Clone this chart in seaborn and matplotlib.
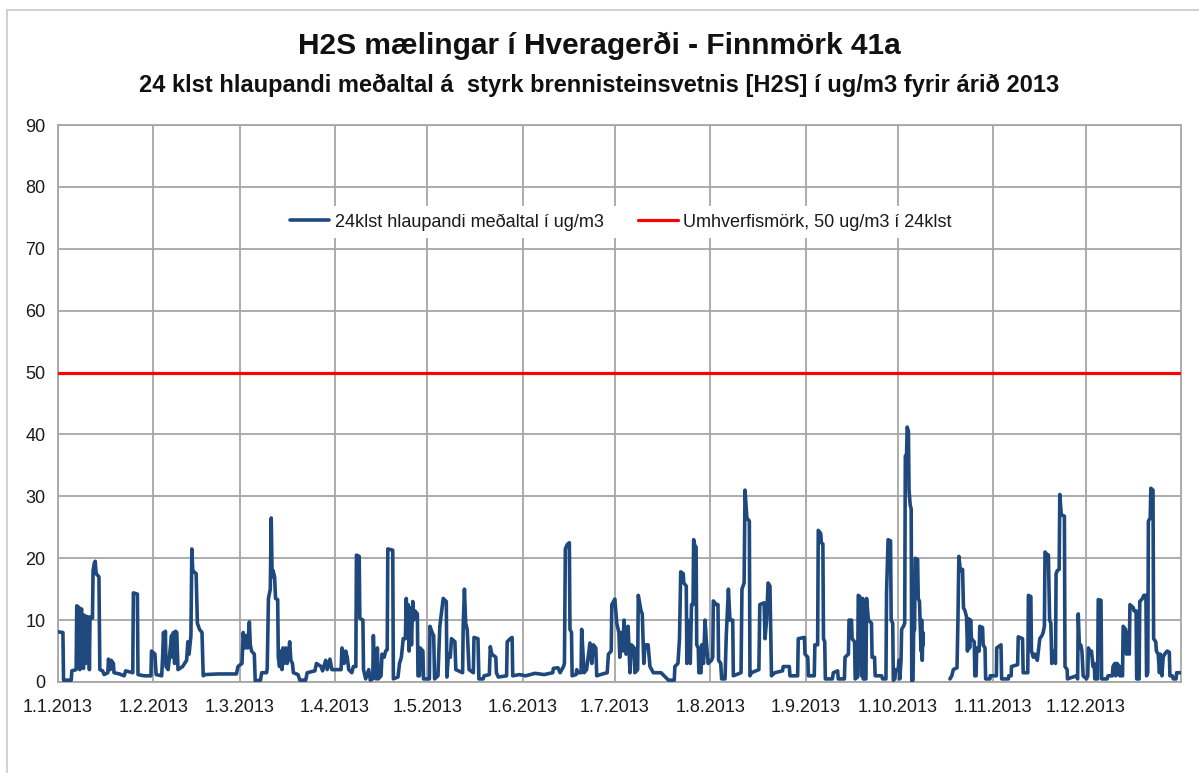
import matplotlib
matplotlib.use("Agg")
import matplotlib.pyplot as plt
from matplotlib.lines import Line2D
import seaborn as sns
import pandas as pd
import numpy as np

nan = np.nan

# ---- data: 24h running mean of H2S (ug/m3), breakpoints ----
# day = days since 1.1.2013 00:00
jan_day = [0.0, 1.6, 1.8, 4.3, 4.5, 5.9, 6.1, 6.9, 7.1, 7.4, 7.7, 7.8, 8.3, 8.5, 9.0, 9.3, 10.0, 10.2, 10.4, 11.2, 11.4, 11.8, 12.1, 12.4, 13.3, 13.6, 14.5, 15.0, 16.2, 16.4, 17.0, 17.3, 18.0, 18.2, 20.0, 21.5, 22.0, 24.3, 24.5, 25.8, 26.0, 28.0, 30.2, 30.4]
jan_h2s = [8.1, 8.0, 0.3, 0.3, 1.8, 2.0, 12.3, 12.0, 2.0, 11.5, 11.8, 2.5, 2.2, 10.8, 3.0, 10.6, 10.4, 2.0, 10.5, 10.3, 18.0, 19.2, 19.5, 17.5, 17.0, 2.0, 1.8, 1.2, 1.5, 3.7, 2.0, 3.5, 3.0, 1.5, 1.3, 1.0, 1.8, 1.5, 14.4, 14.2, 1.2, 1.0, 1.0, 5.0]

feb_day = [31.5, 31.9, 33.7, 34.0, 34.3, 34.6, 34.9, 35.1, 35.8, 36.9, 37.2, 37.5, 37.9, 38.2, 38.6, 39.0, 40.5, 41.8, 42.2, 42.6, 43.2, 43.5, 43.8, 44.9, 45.3, 46.0, 46.8, 47.2, 47.8, 52.0, 58.0, 58.5]
feb_h2s = [4.5, 1.2, 1.0, 4.0, 8.0, 3.5, 8.2, 2.5, 2.0, 7.5, 4.0, 8.0, 3.0, 8.2, 8.0, 2.0, 2.5, 3.5, 6.5, 4.5, 7.5, 21.5, 18.0, 17.5, 9.5, 8.5, 8.0, 1.0, 1.2, 1.3, 1.3, 2.5]

mar_day = [59.8, 60.2, 60.7, 61.1, 61.6, 62.2, 62.5, 62.9, 63.8, 64.1, 65.8, 66.2, 67.8, 68.0, 68.4, 69.0, 69.3, 69.6, 69.9, 70.4, 70.7, 71.4, 71.6, 72.0, 72.4, 72.8, 73.1, 73.5, 74.0, 74.5, 75.0, 75.3, 75.7, 76.2, 76.5, 78.0, 78.6, 80.5, 81.0, 83.5, 84.0, 85.5, 86.0, 87.0, 87.5, 88.4, 89.0]
mar_h2s = [3.0, 8.0, 5.5, 7.5, 5.5, 9.7, 6.0, 5.0, 4.5, 0.2, 0.3, 1.5, 1.5, 2.2, 13.5, 15.0, 26.5, 17.0, 18.0, 17.0, 13.5, 13.3, 4.0, 2.5, 5.0, 2.0, 5.5, 3.0, 5.5, 3.0, 5.0, 6.5, 3.5, 3.0, 1.5, 1.2, 0.3, 0.3, 1.5, 1.8, 3.0, 2.5, 1.8, 3.5, 2.0, 3.7, 2.0]

apr_day = [92.0, 92.3, 93.0, 93.5, 94.0, 94.5, 95.5, 96.0, 96.8, 97.0, 97.9, 98.1, 99.1, 99.3, 100.0, 101.0, 101.5, 102.3, 102.5, 102.8, 103.4, 103.8, 104.1, 105.0, 105.3, 106.0, 106.5, 107.0, 107.2, 108.8, 109.0, 110.5, 111.0, 111.6, 112.2, 112.9, 113.2, 113.5, 113.8, 114.1, 114.5, 114.9, 115.3, 115.6, 116.0, 116.8, 117.0, 117.5, 117.7, 118.6, 118.8]
apr_h2s = [2.0, 5.5, 3.0, 5.0, 4.0, 2.0, 1.5, 2.5, 2.5, 20.5, 20.3, 10.3, 10.0, 2.0, 0.5, 2.0, 0.3, 0.5, 7.5, 3.0, 0.5, 5.5, 0.5, 1.0, 4.5, 4.0, 5.0, 5.2, 21.5, 21.3, 0.5, 0.8, 3.0, 4.0, 7.0, 7.0, 13.5, 8.0, 12.5, 5.0, 12.0, 6.0, 13.0, 10.0, 11.5, 11.0, 1.0, 1.0, 5.5, 5.0, 0.5]

may_day = [120.7, 120.9, 121.6, 122.1, 122.4, 123.5, 124.1, 124.6, 125.2, 126.2, 126.4, 126.9, 127.5, 127.9, 129.0, 129.3, 131.5, 131.7, 132.1, 132.5, 133.0, 133.6, 135.0, 135.2, 136.5, 136.8, 138.2, 138.5, 140.2, 140.5, 141.0, 141.5, 142.3, 142.5, 143.1, 145.8, 146.0, 147.0, 147.6, 147.8, 150.0]
may_h2s = [0.5, 9.0, 8.0, 7.5, 0.5, 1.0, 9.0, 11.0, 13.5, 13.0, 0.8, 4.5, 4.0, 7.0, 6.5, 2.0, 1.5, 9.0, 15.0, 9.5, 8.5, 2.0, 1.5, 7.2, 7.0, 0.5, 0.5, 1.0, 1.2, 5.7, 4.5, 4.3, 4.0, 1.5, 0.8, 1.0, 6.5, 7.0, 7.2, 1.0, 1.2]

jun_day = [152.0, 155.0, 158.0, 160.8, 161.0, 162.5, 163.2, 164.3, 164.6, 164.9, 165.5, 166.2, 166.4, 166.9, 167.1, 168.4, 168.6, 169.0, 170.0, 170.2, 170.6, 171.0, 171.8, 172.9, 173.5, 174.0, 174.8, 175.1, 177.0, 178.5, 178.9, 179.8]
jun_h2s = [1.0, 1.4, 1.2, 1.5, 2.2, 2.3, 1.5, 2.5, 3.0, 21.5, 22.2, 22.5, 8.5, 8.0, 1.0, 1.2, 2.0, 1.5, 1.5, 8.5, 5.0, 1.5, 2.0, 6.3, 3.0, 6.0, 5.5, 1.0, 1.3, 1.5, 4.5, 5.0]

jul_day = [180.0, 181.0, 181.6, 182.3, 182.6, 183.0, 183.5, 184.0, 184.6, 185.3, 185.9, 186.4, 187.3, 187.5, 188.4, 188.6, 189.5, 189.9, 190.4, 190.8, 191.8, 192.4, 193.5, 196.0, 198.4, 200.3, 200.5, 201.5, 202.0, 202.4, 203.2, 203.4, 204.2, 204.4, 204.7, 205.2, 205.5, 205.9, 206.4, 206.6, 207.0, 207.4, 207.6, 208.1, 208.3, 209.0, 209.2, 209.8, 210.3, 210.8, 211.3]
jul_h2s = [12.5, 13.4, 9.5, 8.0, 4.0, 8.0, 5.0, 10.0, 4.5, 9.0, 1.5, 6.0, 5.5, 1.5, 2.0, 14.0, 11.5, 11.0, 3.0, 6.0, 6.0, 2.5, 1.5, 1.5, 0.3, 0.3, 2.5, 3.0, 7.0, 17.8, 17.5, 16.0, 15.5, 3.0, 10.0, 9.5, 3.0, 12.5, 12.5, 23.0, 22.0, 21.8, 6.0, 5.5, 1.5, 1.5, 6.0, 3.0, 10.0, 6.0, 3.0]

aug_day = [212.4, 212.8, 213.0, 214.0, 214.5, 214.7, 215.4, 215.7, 216.8, 217.2, 217.9, 218.4, 219.3, 219.5, 222.0, 222.3, 223.0, 223.3, 223.9, 224.7, 224.9, 225.4, 227.8, 228.1, 229.5, 229.8, 230.3, 230.8, 231.4, 231.9, 233.0, 235.5, 235.7, 237.7, 237.9, 240.4, 240.6, 242.6, 242.8]
aug_h2s = [3.5, 4.0, 13.1, 12.5, 12.5, 3.5, 3.0, 0.5, 0.5, 7.5, 15.0, 10.0, 10.0, 1.0, 1.5, 15.0, 16.0, 31.0, 26.5, 26.0, 1.0, 1.5, 2.0, 12.5, 12.8, 7.0, 10.0, 16.0, 15.5, 1.0, 1.5, 1.8, 2.5, 2.5, 1.0, 1.0, 7.0, 7.2, 4.5]

sep_day = [243.7, 243.9, 245.8, 246.0, 246.9, 247.1, 247.9, 248.1, 248.6, 248.8, 249.2, 249.4, 251.7, 252.0, 253.4, 253.6, 255.6, 255.8, 256.9, 257.1, 257.9, 258.1, 258.9, 259.1, 259.9, 260.1, 260.6, 261.2, 261.5, 261.7, 262.6, 262.8, 263.4, 264.4, 264.6, 265.4, 265.6, 267.7, 268.0, 269.1, 269.3, 269.8, 270.6, 270.8, 271.3, 271.5, 272.0, 272.2]
sep_h2s = [4.0, 1.0, 1.0, 6.0, 6.0, 24.5, 24.0, 22.5, 22.3, 7.0, 6.5, 0.5, 0.5, 1.5, 1.8, 0.5, 0.5, 4.0, 4.5, 10.0, 10.0, 7.0, 6.5, 0.5, 0.8, 14.0, 13.8, 1.0, 13.5, 0.5, 0.5, 13.5, 10.0, 9.5, 4.0, 4.0, 1.0, 1.0, 0.5, 0.5, 14.5, 23.0, 22.8, 10.0, 9.5, 0.3, 0.5, 2.0]

oct_day = [273.1, 273.3, 273.6, 274.0, 274.2, 274.8, 275.2, 275.4, 275.8, 276.0, 276.4, 276.6, 277.0, 277.3, 277.5, 277.9, 278.1, 278.4, 278.6, 279.4, 279.6, 280.0, 280.2, 280.5, 280.7, 280.9, 281.1, 281.2, 285.0, 289.9, 290.5, 291.0, 292.2, 292.5, 292.8, 293.3, 294.0, 294.3, 294.8, 295.3, 295.6, 296.0, 296.3, 296.6, 296.9, 297.8, 298.0, 298.4, 298.6, 299.4, 299.6, 300.5, 300.7, 301.3, 301.5, 302.9, 303.0]
oct_h2s = [2.0, 3.5, 0.5, 3.5, 8.5, 9.0, 9.5, 36.5, 36.8, 41.2, 40.5, 31.0, 28.5, 28.0, 0.2, 0.3, 8.0, 8.5, 20.0, 19.8, 13.5, 13.0, 10.0, 5.0, 10.0, 3.5, 8.0, 6.0, nan, 0.5, 1.0, 2.0, 2.3, 10.0, 20.3, 18.0, 18.2, 12.0, 11.5, 10.5, 5.0, 10.2, 5.5, 10.0, 7.0, 6.5, 1.0, 1.0, 5.5, 5.0, 9.0, 8.8, 6.0, 5.5, 0.5, 0.5, 1.0]

nov_day = [305.0, 305.1, 306.5, 306.7, 308.9, 309.0, 309.8, 309.9, 311.9, 312.1, 313.5, 313.7, 315.2, 315.4, 316.2, 316.4, 317.0, 317.5, 318.3, 319.1, 319.8, 320.2, 320.6, 320.8, 321.6, 321.9, 322.3, 322.7, 323.0, 323.5, 324.2, 324.4, 324.8, 325.4, 325.6, 326.1, 327.1, 327.3, 328.0, 328.1, 331.0, 331.4, 331.6, 332.0, 332.4, 332.8, 333.2]
nov_h2s = [1.0, 5.5, 6.0, 0.5, 0.5, 1.0, 1.0, 2.5, 2.8, 7.3, 7.0, 1.5, 1.5, 14.0, 13.8, 5.0, 4.0, 4.5, 3.5, 7.0, 7.5, 8.0, 9.0, 21.0, 20.5, 20.5, 10.0, 9.5, 3.0, 5.0, 3.0, 17.5, 18.0, 18.2, 30.3, 27.0, 26.8, 2.5, 2.0, 0.5, 1.0, 0.5, 11.0, 5.5, 6.0, 5.0, 1.0]

dec_day = [334.3, 334.7, 334.9, 335.6, 335.9, 336.4, 336.8, 337.0, 337.9, 338.1, 339.0, 339.2, 341.0, 341.3, 342.7, 342.9, 343.5, 343.8, 344.2, 345.0, 345.1, 346.0, 346.2, 347.0, 347.3, 347.8, 348.2, 348.4, 349.5, 349.7, 350.4, 350.6, 351.4, 351.6, 352.5, 352.9, 353.6, 353.8, 354.2, 354.4, 355.0, 355.2, 355.9, 356.1, 356.8, 357.0, 357.6, 358.0, 358.3, 358.8, 359.2, 359.7, 360.5, 361.2, 361.4, 362.2, 362.5, 363.4, 363.6, 364.7]
dec_h2s = [0.5, 1.0, 5.5, 4.5, 5.0, 2.5, 3.0, 0.5, 0.5, 13.3, 13.2, 0.5, 0.5, 1.0, 1.0, 2.5, 3.0, 1.0, 3.0, 2.5, 1.0, 1.0, 9.0, 8.5, 4.5, 8.0, 4.5, 12.5, 12.0, 11.5, 11.5, 0.5, 0.5, 13.0, 13.5, 14.0, 14.0, 1.0, 1.5, 26.0, 26.5, 31.3, 31.0, 7.0, 6.5, 5.0, 4.5, 1.5, 4.5, 1.0, 4.0, 4.5, 5.0, 4.8, 1.0, 1.0, 0.5, 0.5, 1.5, 1.5]

limit_value = 50
month_labels = ["1.1.2013", "1.2.2013", "1.3.2013", "1.4.2013", "1.5.2013", "1.6.2013",
                "1.7.2013", "1.8.2013", "1.9.2013", "1.10.2013", "1.11.2013", "1.12.2013"]
series_label = "24klst hlaupandi meðaltal í ug/m3"
limit_label = "Umhverfismörk, 50 ug/m3 í 24klst"
title = "H2S mælingar í Hveragerði - Finnmörk 41a"
subtitle = "24 klst hlaupandi meðaltal á  styrk brennisteinsvetnis [H2S] í ug/m3 fyrir árið 2013"

# ---- build frame ----
days = jan_day + feb_day + mar_day + apr_day + may_day + jun_day + jul_day + aug_day + sep_day + oct_day + nov_day + dec_day
vals = jan_h2s + feb_h2s + mar_h2s + apr_h2s + may_h2s + jun_h2s + jul_h2s + aug_h2s + sep_h2s + oct_h2s + nov_h2s + dec_h2s
df = pd.DataFrame({"day": days, "h2s": vals})
df["segment"] = df["h2s"].isna().cumsum()
df = df.dropna().copy()
start = pd.Timestamp("2013-01-01")
df["time"] = start + pd.to_timedelta(df["day"], unit="D")

limit_df = pd.DataFrame({"time": [start, pd.Timestamp("2014-01-01")],
                         "h2s": [limit_value, limit_value]})

BLUE = "#1F497D"
GRID = "#A6A6A6"

sns.set_theme(style="white")
plt.rcParams["font.family"] = ["Liberation Sans", "DejaVu Sans"]

W, H = 1199, 773
fig = plt.figure(figsize=(W / 100, H / 100), dpi=100)
ax = fig.add_axes([58 / W, 1 - 682 / H, (1181 - 58) / W, (682 - 125) / H])

sns.lineplot(data=df, x="time", y="h2s", units="segment", estimator=None, sort=False,
             color=BLUE, linewidth=2.6, ax=ax, legend=False, zorder=3)
sns.lineplot(data=limit_df, x="time", y="h2s", color="#FF0000", linewidth=2.3,
             ax=ax, legend=False, zorder=4)

ax.set_xlim(start, pd.Timestamp("2014-01-01"))
ax.set_ylim(0, 90)
ax.set_yticks(range(0, 91, 10))
month_ticks = pd.date_range("2013-01-01", periods=12, freq="MS")
ax.set_xticks(month_ticks)
ax.set_xticklabels(month_labels)
ax.set_xlabel("")
ax.set_ylabel("")
ax.grid(True, color=GRID, linewidth=1.3)
ax.set_axisbelow(True)
for s in ax.spines.values():
    s.set_color(GRID)
    s.set_linewidth(1.3)
ax.tick_params(axis="both", length=0, labelsize=13, labelcolor="#1a1a1a")
ax.tick_params(axis="y", pad=9)
ax.tick_params(axis="x", pad=12)

handles = [Line2D([], [], color=BLUE, lw=2.6), Line2D([], [], color="#FF0000", lw=2.3)]
leg = ax.legend(handles, [series_label, limit_label], loc="center",
                bbox_to_anchor=(0.501, 0.826), ncol=2, frameon=True, fancybox=False,
                facecolor="white", edgecolor="none", framealpha=1, fontsize=13,
                handlelength=2.2, handletextpad=0.3, columnspacing=1.9,
                borderpad=0.4)
for t in leg.get_texts():
    t.set_color("#1a1a1a")

fig.text(0.5, 1 - 46 / H, title, ha="center", va="center", fontsize=21.5,
         fontweight="bold", color="#111111")
fig.text(0.5, 1 - 85 / H, subtitle, ha="center", va="center", fontsize=17,
         fontweight="bold", color="#111111")

# chart-area border (Excel-like)
fig.add_artist(Line2D([7 / W, 7 / W], [0, 1 - 10 / H], color="#C8C8C8", lw=1.2))
fig.add_artist(Line2D([7 / W, 1], [1 - 10 / H, 1 - 10 / H], color="#C8C8C8", lw=1.2))

fig.savefig("out.png", dpi=100)
